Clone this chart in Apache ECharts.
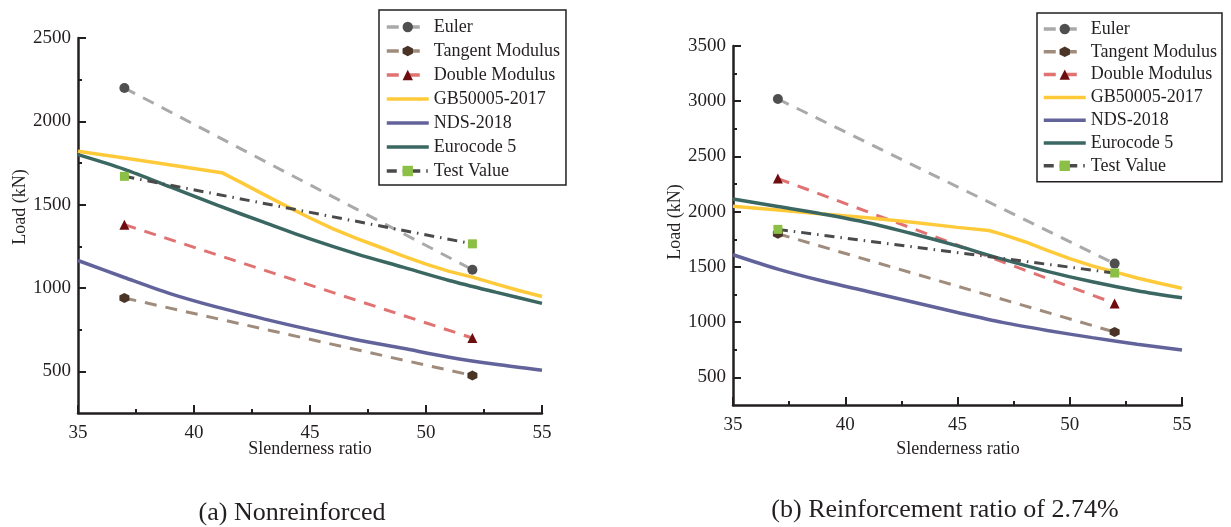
<!DOCTYPE html>
<html>
<head>
<meta charset="utf-8">
<script src="https://cdn.jsdelivr.net/npm/echarts@6/dist/echarts.min.js"></script>
<style>html,body{margin:0;padding:0;background:#fff}#c{width:1231px;height:527px}</style>
</head>
<body>
<div id="c"></div>
<script>
// ---------- data ----------
const seriesNames = ['Euler', 'Tangent Modulus', 'Double Modulus', 'GB50005-2017', 'NDS-2018', 'Eurocode 5', 'Test Value'];
const endX = [37, 52];
const codeX = [35, 37, 39, 41, 43, 45, 47, 49, 51, 53, 55];

// (a) Nonreinforced
const aEuler = [2200, 1110];
const aTangent = [940, 475];
const aDouble = [1380, 700];
const aTest = [1670, 1265];
const aGbX = [35, 37, 39, 41.2, 42, 43, 44, 45, 46, 47, 48, 49, 50, 51, 52, 53, 54, 55];
const aGbY = [1820, 1780, 1738, 1692, 1635, 1562, 1490, 1420, 1355, 1298, 1246, 1193, 1143, 1100, 1065, 1025, 985, 949];
const aNds = [1165, 1063, 965, 885, 815, 750, 690, 638, 585, 542, 506];
const aEuro = [1800, 1712, 1605, 1497, 1395, 1295, 1205, 1125, 1045, 975, 908];

// (b) Reinforcement ratio of 2.74%
const bEuler = [3020, 1530];
const bTangent = [1800, 910];
const bDouble = [2300, 1170];
const bTest = [1840, 1445];
const bGbX = [35, 37, 39, 41, 43, 45, 46.4, 47, 48, 49, 50, 51, 52, 53, 54, 55];
const bGbY = [2050, 2015, 1980, 1945, 1905, 1858, 1830, 1795, 1728, 1650, 1575, 1510, 1455, 1400, 1352, 1307];
const bNds = [1610, 1480, 1372, 1278, 1183, 1088, 998, 925, 860, 800, 747];
const bEuro = [2115, 2047, 1978, 1900, 1800, 1690, 1570, 1460, 1365, 1285, 1220];

// tick labels
const xTicks = [35, 40, 45, 50, 55];
const aYMajor = [500, 1000, 1500, 2000, 2500];
const aYMinor = [750, 1250, 1750, 2250];
const bYMajor = [500, 1000, 1500, 2000, 2500, 3000, 3500];
const bYMinor = [750, 1250, 1750, 2250, 2750, 3250];

const titles = ['(a) Nonreinforced', '(b) Reinforcement ratio of 2.74%'];
const xName = 'Slenderness ratio';
const yName = 'Load (kN)';

// ---------- styles ----------
const INK = '#231f20';
const FONT = "'Liberation Serif', 'Times New Roman', serif";
const HEX = 'path://M0.5,0 L0.933,0.25 L0.933,0.75 L0.5,1 L0.067,0.75 L0.067,0.25 Z';
const sty = {
  'Euler': {line: '#a9a9a9', mark: '#4f4f4f', symbol: 'circle', type: [12, 9]},
  'Tangent Modulus': {line: '#a08c7c', mark: '#4a3426', symbol: HEX, type: [12, 9]},
  'Double Modulus': {line: '#e07272', mark: '#6e0d10', symbol: 'triangle', type: [12, 9]},
  'GB50005-2017': {line: '#ffca3a'},
  'NDS-2018': {line: '#63639c'},
  'Eurocode 5': {line: '#3b6762'},
  'Test Value': {line: '#4a4a4a', mark: '#8cbf45', symbol: 'rect', type: [10, 6, 1.5, 6]}
};
const zip = (xs, ys) => xs.map((x, i) => [x, ys[i]]);

function mk(name, data, xi, yi, smooth) {
  const s = sty[name];
  return {
    name, type: 'line', xAxisIndex: xi, yAxisIndex: yi, data,
    lineStyle: {color: s.line, width: s.type ? 3 : 3.5, type: s.type || 'solid'},
    itemStyle: {color: s.mark || s.line},
    symbol: s.symbol || 'none', symbolSize: s.symbol === 'rect' ? 9 : 10,
    showSymbol: !!s.symbol, smooth: smooth || false, animation: false, z: 3
  };
}

function seriesFor(xi, yi, euler, tangent, dbl, test, gbX, gbY, nds, euro) {
  return [
    mk('Euler', zip(endX, euler), xi, yi),
    mk('Tangent Modulus', zip(endX, tangent), xi, yi),
    mk('Double Modulus', zip(endX, dbl), xi, yi),
    mk('GB50005-2017', zip(gbX, gbY), xi, yi),
    mk('NDS-2018', zip(codeX, nds), xi, yi, 0.3),
    mk('Eurocode 5', zip(codeX, euro), xi, yi, 0.3),
    mk('Test Value', zip(endX, test), xi, yi)
  ];
}

const plain = v => String(v);

function xAx(gi) {
  return {
    type: 'value', gridIndex: gi, min: 35, max: 55, interval: 5,
    axisLine: {show: true, lineStyle: {color: INK, width: 2.5}},
    axisTick: {show: true, inside: true, length: 8, lineStyle: {color: INK, width: 2}},
    minorTick: {show: true, splitNumber: 2, length: 4, lineStyle: {color: INK, width: 2}},
    axisLabel: {color: INK, fontFamily: FONT, fontSize: 19, margin: 11, formatter: plain},
    splitLine: {show: false}, minorSplitLine: {show: false}
  };
}
function yAxMajor(gi, max, major) {
  return {
    type: 'value', gridIndex: gi, min: 250, max: max, interval: 250,
    axisLine: {show: true, lineStyle: {color: INK, width: 2.5}},
    axisTick: {show: true, inside: true, length: 8, lineStyle: {color: INK, width: 2}, customValues: major},
    axisLabel: {color: INK, fontFamily: FONT, fontSize: 19, margin: 7, customValues: major, formatter: plain},
    splitLine: {show: false}
  };
}
function yAxMinor(gi, max, minor) {
  return {
    type: 'value', gridIndex: gi, min: 250, max: max, interval: 250, position: 'left',
    axisLine: {show: false},
    axisTick: {show: true, inside: true, length: 4, lineStyle: {color: INK, width: 2}, customValues: minor},
    axisLabel: {show: false},
    splitLine: {show: false}
  };
}
function legend(left, top, gap, pad) {
  return {
    orient: 'vertical', left, top, itemGap: gap, padding: pad,
    itemWidth: 42, itemHeight: 13,
    lineStyle: {width: 3.5},
    data: seriesNames.map(n => sty[n].symbol ? {name: n} : {name: n, itemStyle: {opacity: 0}}),
    backgroundColor: '#fff', borderColor: INK, borderWidth: 1.5, borderRadius: 0,
    textStyle: {color: INK, fontFamily: FONT, fontSize: 18, lineHeight: 18},
    selectedMode: false
  };
}
function txt(text, x, y, size, rot) {
  return {type: 'text', x, y, rotation: rot || 0, silent: true,
    style: {text, fill: INK, font: size + 'px ' + FONT, align: 'center', verticalAlign: 'middle'}};
}

const chart = echarts.init(document.getElementById('c'), null, {renderer: 'canvas'});
chart.setOption({
  backgroundColor: '#fff',
  animation: false,
  grid: [
    {left: 78, top: 38, width: 464, height: 375},
    {left: 733, top: 46, width: 449, height: 359}
  ],
  xAxis: [xAx(0), xAx(1)],
  yAxis: [yAxMajor(0, 2500, aYMajor), yAxMinor(0, 2500, aYMinor), yAxMajor(1, 3500, bYMajor), yAxMinor(1, 3500, bYMinor)],
  legend: [legend(379, 10, 6, [8, 6, 5, 6]), legend(1037, 13, 4.8, [7, 5, 7, 5])],
  series: [].concat(
    seriesFor(0, 0, aEuler, aTangent, aDouble, aTest, aGbX, aGbY, aNds, aEuro),
    seriesFor(1, 2, bEuler, bTangent, bDouble, bTest, bGbX, bGbY, bNds, bEuro)
  ),
  graphic: [
    txt(yName, 20, 207, 18, Math.PI / 2),
    txt(yName, 675, 222, 18, Math.PI / 2),
    txt(xName, 310, 449, 18),
    txt(xName, 958, 449, 18),
    txt(titles[0], 292, 513, 26),
    txt(titles[1], 945, 510, 26)
  ]
});
</script>
</body>
</html>
